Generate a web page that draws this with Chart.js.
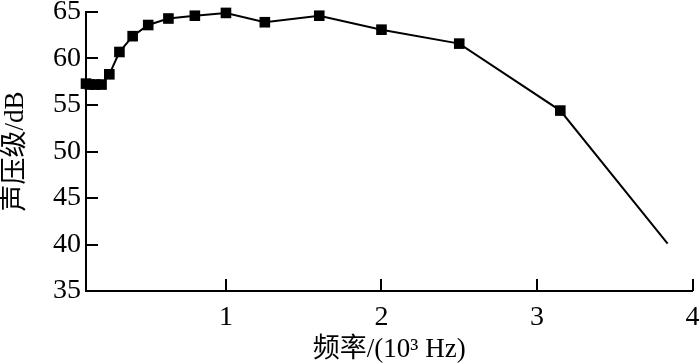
<!DOCTYPE html>
<html>
<head>
<meta charset="utf-8">
<script src="https://cdn.jsdelivr.net/npm/chart.js@4.4.1/dist/chart.umd.min.js"></script>
<style>
  html, body { margin: 0; padding: 0; background: #fff; }
  #wrap { width: 700px; height: 364px; }
</style>
</head>
<body>
<div id="wrap"><canvas id="chart"></canvas></div>
<script>
// 频率 (10^3 Hz)
const freqs = [0.1, 0.125, 0.16, 0.2, 0.25, 0.315, 0.4, 0.5, 0.63, 0.8, 1.0, 1.25, 1.6, 2.0, 2.5, 3.15, 3.84];
// 声压级 (dB)
const levels = [57.3, 57.2, 57.2, 57.2, 58.3, 60.7, 62.4, 63.6, 64.3, 64.6, 64.9, 63.9, 64.6, 63.1, 61.6, 54.4, 40.1];
const xTicks = [1, 2, 3, 4];
const yTicks = [35, 40, 45, 50, 55, 60, 65];

const FONT = '"Liberation Serif", "Times New Roman", "Noto Sans CJK SC", serif';

// 向内的刻度线
const inwardTicks = {
    id: 'inwardTicks',
    afterDraw(chart) {
        const ctx = chart.ctx;
        const xs = chart.scales.x, ys = chart.scales.y;
        const area = chart.chartArea;
        ctx.save();
        ctx.strokeStyle = '#000';
        ctx.lineWidth = 2;
        ctx.beginPath();
        xTicks.forEach(v => {
            const px = Math.round(xs.getPixelForValue(v));
            ctx.moveTo(px, area.bottom);
            ctx.lineTo(px, area.bottom - 12);
        });
        yTicks.forEach(v => {
            const py = Math.round(ys.getPixelForValue(v));
            ctx.moveTo(area.left, py);
            ctx.lineTo(area.left + 12, py);
        });
        ctx.stroke();
        ctx.restore();
    }
};

const points = freqs.map((f, i) => ({ x: f, y: levels[i] }));

new Chart(document.getElementById('chart'), {
    type: 'line',
    data: {
        datasets: [{
            data: points,
            borderColor: '#000',
            borderWidth: 2,
            backgroundColor: '#000',
            pointStyle: 'rect',
            pointRadius: levels.map((_, i) => i === levels.length - 1 ? 0 : 7.5),
            pointBorderWidth: 0,
            tension: 0,
            clip: false
        }]
    },
    options: {
        responsive: true,
        maintainAspectRatio: false,
        animation: false,
        layout: { padding: { top: 12, right: 7, left: 0, bottom: 0 } },
        plugins: { legend: { display: false }, tooltip: { enabled: false } },
        scales: {
            x: {
                type: 'linear',
                min: 0.1,
                max: 4,
                afterBuildTicks: s => { s.ticks = xTicks.map(v => ({ value: v })); },
                afterFit: s => { s.height = 73; s.paddingLeft = 0; s.paddingRight = 0; },
                grid: { display: false, drawTicks: false },
                border: { display: true, color: '#000', width: 2 },
                ticks: { color: '#000', font: { family: FONT, size: 28 }, padding: 10, maxRotation: 0 },
                title: {
                    display: true,
                    text: '频率/(10³ Hz)',
                    color: '#000',
                    font: { family: FONT, size: 27 },
                    padding: { top: 0, bottom: -2 }
                }
            },
            y: {
                min: 35,
                max: 65,
                afterBuildTicks: s => { s.ticks = yTicks.map(v => ({ value: v })); },
                afterFit: s => { s.width = 86; s.paddingTop = 0; s.paddingBottom = 0; },
                grid: { display: false, drawTicks: false },
                border: { display: true, color: '#000', width: 2 },
                ticks: { color: '#000', font: { family: FONT, size: 28 }, padding: 5 },
                title: {
                    display: true,
                    text: '声压级/dB',
                    color: '#000',
                    font: { family: FONT, size: 27 },
                    padding: { top: 0, bottom: 0 }
                }
            }
        }
    },
    plugins: [inwardTicks]
});
</script>
</body>
</html>
